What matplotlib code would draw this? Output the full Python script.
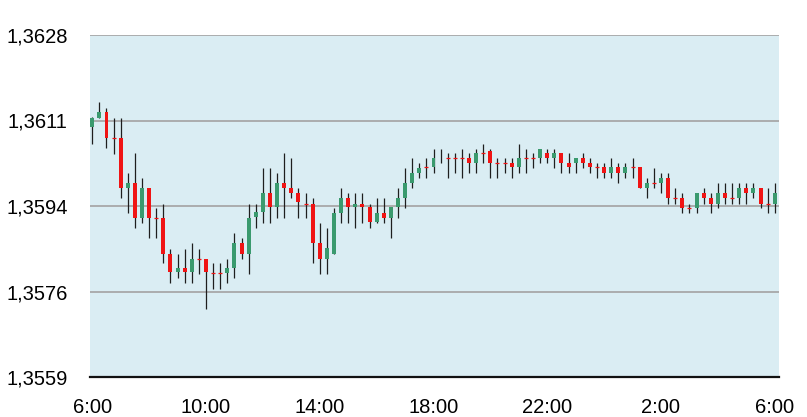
import numpy as np
import matplotlib
matplotlib.use("Agg")
import matplotlib.pyplot as plt

plt.rcParams['font.family'] = ['Liberation Sans', 'DejaVu Sans']

# 15 minute candles, 6:00 -> 6:00
opens = [1.36095, 1.36113, 1.36125, 1.36073, 1.36073, 1.35972, 1.35981, 1.35911, 1.35971, 1.35911,
         1.35910, 1.35839, 1.35801, 1.35810, 1.35801, 1.35829, 1.35829, 1.35799, 1.35799, 1.35799,
         1.35810, 1.35860, 1.35839, 1.35913, 1.35923, 1.35962, 1.35932, 1.35981, 1.35972, 1.35962,
         1.35940, 1.35940, 1.35860, 1.35829, 1.35839, 1.35920, 1.35951, 1.35932, 1.35940, 1.35932,
         1.35902, 1.35920, 1.35911, 1.35932, 1.35951, 1.35981, 1.36001, 1.36013, 1.36013, 1.36031,
         1.36031, 1.36031, 1.36031, 1.36031, 1.36021, 1.36041, 1.36045, 1.36021, 1.36021, 1.36021,
         1.36013, 1.36031, 1.36031, 1.36031, 1.36041, 1.36031, 1.36041, 1.36021, 1.36021, 1.36031,
         1.36021, 1.36013, 1.36013, 1.36002, 1.36013, 1.36002, 1.36013, 1.36013, 1.35971, 1.35981,
         1.35981, 1.35991, 1.35951, 1.35951, 1.35930, 1.35930, 1.35961, 1.35951, 1.35940, 1.35961,
         1.35951, 1.35951, 1.35971, 1.35961, 1.35971, 1.35940, 1.35940]
highs = [1.36115, 1.36144, 1.36133, 1.36113, 1.36113, 1.36002, 1.36041, 1.35991, 1.35971, 1.35930,
         1.35940, 1.35848, 1.35839, 1.35848, 1.35860, 1.35848, 1.35829, 1.35819, 1.35819, 1.35829,
         1.35880, 1.35870, 1.35940, 1.35940, 1.36011, 1.36011, 1.36001, 1.36041, 1.36032, 1.35971,
         1.35961, 1.35951, 1.35900, 1.35890, 1.35930, 1.35971, 1.35961, 1.35961, 1.35961, 1.35940,
         1.35951, 1.35951, 1.35932, 1.35971, 1.36011, 1.36031, 1.36021, 1.36032, 1.36051, 1.36051,
         1.36041, 1.36041, 1.36051, 1.36041, 1.36051, 1.36061, 1.36051, 1.36031, 1.36031, 1.36031,
         1.36061, 1.36051, 1.36041, 1.36051, 1.36051, 1.36051, 1.36041, 1.36041, 1.36031, 1.36041,
         1.36031, 1.36021, 1.36021, 1.36031, 1.36021, 1.36021, 1.36031, 1.36013, 1.35991, 1.36011,
         1.36001, 1.36001, 1.35971, 1.35961, 1.35940, 1.35961, 1.35971, 1.35961, 1.35981, 1.35981,
         1.35981, 1.35981, 1.35981, 1.35981, 1.35971, 1.35971, 1.35981]
lows = [1.36061, 1.36112, 1.36053, 1.36039, 1.35951, 1.35920, 1.35890, 1.35900, 1.35870, 1.35870,
        1.35819, 1.35779, 1.35789, 1.35779, 1.35779, 1.35797, 1.35728, 1.35767, 1.35767, 1.35779,
        1.35789, 1.35829, 1.35797, 1.35890, 1.35900, 1.35900, 1.35910, 1.35910, 1.35951, 1.35910,
        1.35910, 1.35819, 1.35797, 1.35797, 1.35839, 1.35900, 1.35900, 1.35890, 1.35900, 1.35890,
        1.35900, 1.35900, 1.35870, 1.35910, 1.35930, 1.35971, 1.35991, 1.35991, 1.36001, 1.36021,
        1.35991, 1.36001, 1.35991, 1.36001, 1.36001, 1.36021, 1.35991, 1.35991, 1.36001, 1.35991,
        1.36001, 1.36001, 1.36011, 1.36021, 1.36021, 1.36011, 1.36001, 1.36001, 1.36001, 1.36011,
        1.36001, 1.35991, 1.35991, 1.35991, 1.35981, 1.35991, 1.35991, 1.35971, 1.35951, 1.35971,
        1.35961, 1.35940, 1.35940, 1.35920, 1.35920, 1.35920, 1.35940, 1.35920, 1.35930, 1.35940,
        1.35940, 1.35940, 1.35940, 1.35951, 1.35930, 1.35920, 1.35920]
closes = [1.36113, 1.36125, 1.36073, 1.36073, 1.35972, 1.35981, 1.35911, 1.35972, 1.35911, 1.35911,
          1.35839, 1.35801, 1.35809, 1.35801, 1.35829, 1.35829, 1.35801, 1.35799, 1.35799, 1.35810,
          1.35860, 1.35839, 1.35910, 1.35922, 1.35961, 1.35932, 1.35981, 1.35971, 1.35962, 1.35944,
          1.35940, 1.35860, 1.35829, 1.35850, 1.35920, 1.35951, 1.35932, 1.35940, 1.35932, 1.35902,
          1.35920, 1.35911, 1.35932, 1.35951, 1.35981, 1.36001, 1.36012, 1.36013, 1.36031, 1.36032,
          1.36031, 1.36031, 1.36031, 1.36021, 1.36041, 1.36041, 1.36021, 1.36021, 1.36021, 1.36013,
          1.36031, 1.36031, 1.36031, 1.36051, 1.36031, 1.36041, 1.36021, 1.36013, 1.36031, 1.36021,
          1.36013, 1.36013, 1.36001, 1.36013, 1.36001, 1.36013, 1.36013, 1.35971, 1.35981, 1.35981,
          1.35991, 1.35951, 1.35951, 1.35930, 1.35930, 1.35961, 1.35951, 1.35940, 1.35961, 1.35951,
          1.35951, 1.35971, 1.35961, 1.35971, 1.35940, 1.35940, 1.35961]

x_ticks = [0, 4, 8, 12, 16, 20, 24]
x_labels = ["6:00", "10:00", "14:00", "18:00", "22:00", "2:00", "6:00"]
y_ticks = [1.3559, 1.357625, 1.35935, 1.361075, 1.3628]
y_labels = ["1,3559", "1,3576", "1,3594", "1,3611", "1,3628"]

up_col = '#3a9a6e'
down_col = '#f01414'
wick_col = '#1e1e1e'
bg = '#daedf3'

t = np.arange(len(opens)) * 0.25  # hours since 6:00
o = np.array(opens)
h = np.array(highs)
l = np.array(lows)
c = np.array(closes)
w = 0.14

fig = plt.figure(figsize=(8.07, 4.17), dpi=100)
ax = fig.add_axes([90/807, 40/417, 689/807, 342/417])
ax.set_facecolor(bg)

for yv in y_ticks:
	ax.axhline(yv, color='#a8a8a8', lw=1.3, zorder=1)

ax.vlines(t, l, h, color=wick_col, lw=0.9, zorder=2)

up = c > o
dn = c < o
dj = c == o
ax.bar(t[up], c[up]-o[up], bottom=o[up], width=w, color=up_col, zorder=3, linewidth=0)
ax.bar(t[dn], o[dn]-c[dn], bottom=c[dn], width=w, color=down_col, zorder=3, linewidth=0)
ax.hlines(c[dj], t[dj]-w/2, t[dj]+w/2, color=down_col, lw=0.9, zorder=3)

ax.set_xlim(-0.08, 24.15)
ax.set_ylim(1.3559, 1.3628)
ax.set_xticks(x_ticks)
ax.set_xticklabels(x_labels)
ax.set_yticks(y_ticks)
ax.set_yticklabels(y_labels)
ax.tick_params(axis='both', length=0, labelsize=14.5, colors='black')
ax.tick_params(axis='y', pad=16)
ax.tick_params(axis='x', pad=15)

for s in ['top', 'right', 'left']:
	ax.spines[s].set_visible(False)
ax.spines['bottom'].set_color('#111111')
ax.spines['bottom'].set_linewidth(1.6)
ax.spines['bottom'].set_zorder(5)

fig.savefig('out.png', dpi=100, facecolor='white')
